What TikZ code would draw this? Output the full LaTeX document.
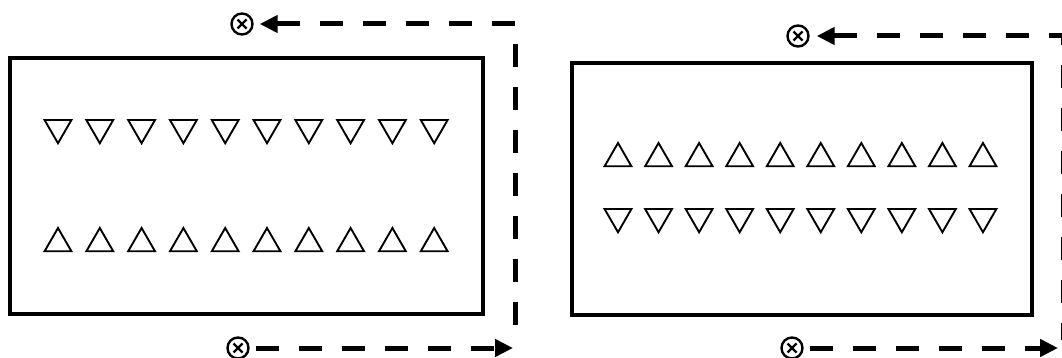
\documentclass[tikz,border=0pt]{standalone}
\usetikzlibrary{shapes.geometric,arrows.meta}
\begin{document}
\begin{tikzpicture}[x=1pt,y=-1pt,
  frame/.style={draw, line width=4.5pt, inner sep=0pt, rectangle},
  upt/.style={draw, regular polygon, regular polygon sides=3, minimum size=31pt, inner sep=0pt, line width=1.9pt},
  dnt/.style={upt, shape border rotate=180},
  otimes/.style={circle, draw, line width=2.4pt, minimum size=21pt, inner sep=0pt,
    path picture={
      \draw[line width=2.3pt] ([shift={(-4.5pt,-4.5pt)}]path picture bounding box.center) -- ([shift={(4.5pt,4.5pt)}]path picture bounding box.center);
      \draw[line width=2.3pt] ([shift={(-4.5pt,4.5pt)}]path picture bounding box.center) -- ([shift={(4.5pt,-4.5pt)}]path picture bounding box.center);
    }},
  flow/.style={line width=5pt, dash pattern=on 23pt off 20pt},
  flowback/.style={flow, {Triangle[length=18pt,width=17pt]}-},
  flowfwd/.style={flow, -{Triangle[length=18pt,width=17pt]}}
]
\useasboundingbox (0,0) rectangle (1062,358);
\clip (0,0) rectangle (1062,358);

% left panel
\node[frame, minimum width=473pt, minimum height=256pt] (box1) at (246.5,186) {};
\foreach \i in {0,...,9} {
  \node[dnt] (ld\i) at ({58+41.8*\i},127.75) {};
  \node[upt] (lu\i) at ({58+41.8*\i},243.5) {};
}
\node[otimes] (ot1) at (242,24) {};
\node[otimes] (ob1) at (238,348) {};
\coordinate (ct1) at (515,24);
\coordinate (cb1) at (515,340);
\coordinate (ab1) at (513,348);
\draw[flowback, shorten <=6pt] (ot1) -- (ct1) -- (cb1);
\draw[flowfwd, shorten <=6pt] (ob1) -- (ab1);

% right panel
\node[frame, minimum width=460pt, minimum height=252pt] (box2) at (802,189) {};
\foreach \i in {0,...,9} {
  \node[upt] (ru\i) at ({618+40.55*\i},158.5) {};
  \node[dnt] (rd\i) at ({618+40.55*\i},216.75) {};
}
\node[otimes] (ot2) at (798,36) {};
\node[otimes] (ob2) at (792,348) {};
\coordinate (ct2) at (1063,36);
\coordinate (cb2) at (1063,340);
\coordinate (ab2) at (1058,348);
\draw[flowback, shorten <=7pt] (ot2) -- (ct2) -- (cb2);
\draw[flowfwd, shorten <=6pt] (ob2) -- (ab2);
\end{tikzpicture}
\end{document}
